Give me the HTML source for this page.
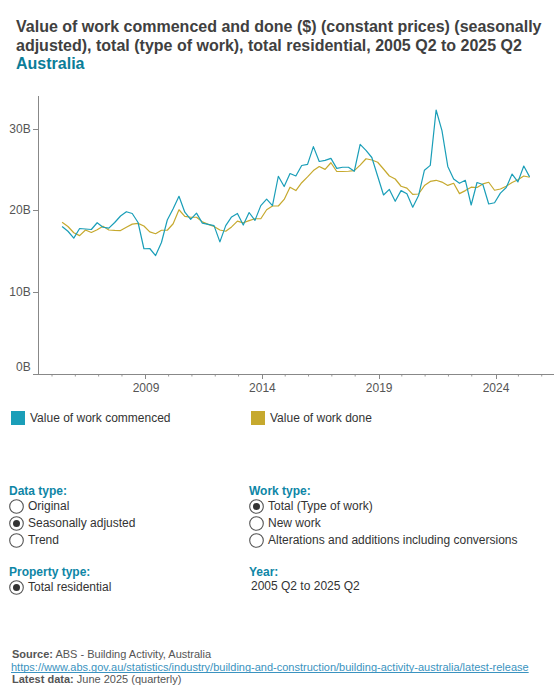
<!DOCTYPE html>
<html><head><meta charset="utf-8">
<style>
html,body{margin:0;padding:0;background:#fff;}
body{width:560px;height:700px;position:relative;overflow:hidden;font-family:"Liberation Sans",sans-serif;}
.t{position:absolute;white-space:nowrap;}
.title{font-weight:bold;font-size:16px;color:#404040;left:16px;line-height:18.5px;}
.lab{font-size:12px;color:#333;}
.hd{font-size:12px;font-weight:bold;color:#0e86a6;}
.src{font-size:11px;color:#555;left:12px;}
</style></head><body>
<div class="t title" style="top:18px">Value of work commenced and done ($) (constant prices) (seasonally<br>adjusted), total (type of work), total residential, 2005 Q2 to 2025 Q2<br><span style="color:#0b7d98">Australia</span></div>

<svg width="560" height="700" style="position:absolute;left:0;top:0">
<g stroke="#888" stroke-width="1" fill="none" shape-rendering="crispEdges">
<line x1="38.5" y1="96" x2="38.5" y2="374"/>
<line x1="33" y1="374.5" x2="554" y2="374.5"/>
<line x1="33" y1="129.5" x2="38" y2="129.5"/>
<line x1="33" y1="210.5" x2="38" y2="210.5"/>
<line x1="33" y1="292.5" x2="38" y2="292.5"/>
</g>
<g stroke="#888" stroke-width="1"><line x1="52.00" y1="375" x2="52.00" y2="376.5" stroke="#999"/><line x1="75.32" y1="375" x2="75.32" y2="376.5" stroke="#999"/><line x1="98.64" y1="375" x2="98.64" y2="376.5" stroke="#999"/><line x1="121.96" y1="375" x2="121.96" y2="376.5" stroke="#999"/><line x1="145.5" y1="375" x2="145.5" y2="379" shape-rendering="crispEdges"/><line x1="168.60" y1="375" x2="168.60" y2="376.5" stroke="#999"/><line x1="191.92" y1="375" x2="191.92" y2="376.5" stroke="#999"/><line x1="215.24" y1="375" x2="215.24" y2="376.5" stroke="#999"/><line x1="238.56" y1="375" x2="238.56" y2="376.5" stroke="#999"/><line x1="262.5" y1="375" x2="262.5" y2="379" shape-rendering="crispEdges"/><line x1="285.20" y1="375" x2="285.20" y2="376.5" stroke="#999"/><line x1="308.52" y1="375" x2="308.52" y2="376.5" stroke="#999"/><line x1="331.84" y1="375" x2="331.84" y2="376.5" stroke="#999"/><line x1="355.16" y1="375" x2="355.16" y2="376.5" stroke="#999"/><line x1="379.5" y1="375" x2="379.5" y2="379" shape-rendering="crispEdges"/><line x1="401.80" y1="375" x2="401.80" y2="376.5" stroke="#999"/><line x1="425.12" y1="375" x2="425.12" y2="376.5" stroke="#999"/><line x1="448.44" y1="375" x2="448.44" y2="376.5" stroke="#999"/><line x1="471.76" y1="375" x2="471.76" y2="376.5" stroke="#999"/><line x1="496.5" y1="375" x2="496.5" y2="379" shape-rendering="crispEdges"/><line x1="518.40" y1="375" x2="518.40" y2="376.5" stroke="#999"/><line x1="541.72" y1="375" x2="541.72" y2="376.5" stroke="#999"/></g>
<g font-family="Liberation Sans" font-size="12" fill="#555" text-anchor="end">
<text x="30.7" y="133">30B</text>
<text x="30.7" y="214">20B</text>
<text x="30.7" y="296">10B</text>
<text x="30.7" y="371">0B</text>
</g>
<g font-family="Liberation Sans" font-size="12" fill="#555" text-anchor="middle">
<text x="146" y="391.5">2009</text>
<text x="262.4" y="391.5">2014</text>
<text x="379.2" y="391.5">2019</text>
<text x="496" y="391.5">2024</text>
</g>
<polyline fill="none" stroke="#c6a92e" stroke-width="1.2" stroke-linejoin="round" points="62.10,222.25 67.94,226.50 73.79,232.75 79.63,235.60 85.48,230.00 91.32,232.50 97.16,229.75 103.01,226.25 108.85,230.00 114.70,230.40 120.54,230.60 126.38,227.20 132.23,224.10 138.07,223.40 143.92,226.00 149.76,231.90 155.60,233.75 161.45,230.25 167.29,230.25 173.14,223.75 178.98,209.75 184.82,216.40 190.67,217.25 196.51,217.25 202.36,221.90 208.20,224.40 214.04,226.50 219.89,230.00 225.73,231.25 231.58,226.90 237.42,221.10 243.26,222.80 249.11,220.60 254.95,218.75 260.80,218.75 266.64,209.75 272.48,206.00 278.33,206.00 284.17,199.40 290.02,187.25 295.86,190.60 301.70,182.70 307.55,176.90 313.39,170.60 319.24,166.50 325.08,169.40 330.92,162.75 336.77,171.50 342.61,171.50 348.46,171.25 354.30,170.60 360.14,165.10 365.99,158.75 371.83,160.00 377.68,162.25 383.52,169.00 389.36,176.00 395.21,179.00 401.05,186.25 406.90,188.10 412.74,194.40 418.58,194.00 424.43,185.60 430.27,181.40 436.12,180.30 441.96,182.10 447.80,185.40 453.65,183.30 459.49,193.60 465.34,190.60 471.18,187.20 477.02,187.50 482.87,183.90 488.71,182.25 494.56,190.25 500.40,189.00 506.24,186.25 512.09,182.50 517.93,179.75 523.78,176.00 529.62,177.25"/>
<polyline fill="none" stroke="#1a9eb8" stroke-width="1.2" stroke-linejoin="round" points="62.10,226.50 67.94,231.25 73.79,238.10 79.63,228.50 85.48,229.00 91.32,229.50 97.16,222.75 103.01,227.25 108.85,228.10 114.70,222.50 120.54,216.00 126.38,211.70 132.23,213.50 138.07,222.50 143.92,248.75 149.76,248.50 155.60,255.60 161.45,242.50 167.29,220.00 173.14,208.75 178.98,196.30 184.82,212.20 190.67,219.40 196.51,213.10 202.36,223.10 208.20,224.40 214.04,225.60 219.89,241.90 225.73,225.60 231.58,216.90 237.42,213.50 243.26,225.00 249.11,212.50 254.95,220.40 260.80,205.60 266.64,199.10 272.48,205.60 278.33,176.25 284.17,186.50 290.02,173.50 295.86,176.00 301.70,165.50 307.55,164.40 313.39,146.60 319.24,161.50 325.08,160.40 330.92,158.40 336.77,168.40 342.61,167.25 348.46,167.25 354.30,171.25 360.14,144.40 365.99,150.30 371.83,157.50 377.68,176.25 383.52,195.00 389.36,189.40 395.21,201.25 401.05,190.60 406.90,193.75 412.74,207.25 418.58,195.60 424.43,170.20 430.27,165.40 436.12,110.00 441.96,130.70 447.80,166.40 453.65,178.90 459.49,183.30 465.34,180.30 471.18,205.00 477.02,182.50 482.87,184.50 488.71,204.00 494.56,202.75 500.40,193.10 506.24,187.50 512.09,174.10 517.93,181.90 523.78,166.00 529.62,176.90"/>
<rect x="11" y="411" width="14" height="14" fill="#1a9eb8"/>
<rect x="251" y="411" width="14" height="14" fill="#c6a92e"/>
<g fill="none" stroke="#555" stroke-width="1.1">
<circle cx="16.5" cy="506.5" r="6.8"/>
<circle cx="16.5" cy="523.5" r="6.8"/>
<circle cx="16.5" cy="540.5" r="6.8"/>
<circle cx="256.5" cy="506.5" r="6.8"/>
<circle cx="256.5" cy="523.5" r="6.8"/>
<circle cx="256.5" cy="540.5" r="6.8"/>
<circle cx="16.5" cy="587.5" r="6.8"/>
</g>
<g fill="#333">
<circle cx="16.5" cy="523.5" r="3.5"/>
<circle cx="256.5" cy="506.5" r="3.5"/>
<circle cx="16.5" cy="587.5" r="3.5"/>
</g>
</svg>

<div class="t lab" style="left:30px;top:411px">Value of work commenced</div>
<div class="t lab" style="left:270px;top:411px">Value of work done</div>

<div class="t hd" style="left:9px;top:484px">Data type:</div>
<div class="t lab" style="left:28px;top:499px">Original</div>
<div class="t lab" style="left:28px;top:516px">Seasonally adjusted</div>
<div class="t lab" style="left:28px;top:533px">Trend</div>

<div class="t hd" style="left:249px;top:484px">Work type:</div>
<div class="t lab" style="left:268px;top:499px">Total (Type of work)</div>
<div class="t lab" style="left:268px;top:516px">New work</div>
<div class="t lab" style="left:268px;top:533px">Alterations and additions including conversions</div>

<div class="t hd" style="left:9px;top:565px">Property type:</div>
<div class="t lab" style="left:28px;top:580px">Total residential</div>

<div class="t hd" style="left:249px;top:565px">Year:</div>
<div class="t lab" style="left:251px;top:579px">2005 Q2 to 2025 Q2</div>

<div class="t src" style="top:648px"><b>Source:</b> ABS - Building Activity, Australia</div>
<div class="t src" style="top:661px;left:11px;color:#3a93c0;text-decoration:underline;text-decoration-skip-ink:none">https://www.abs.gov.au/statistics/industry/building-and-construction/building-activity-australia/latest-release</div>
<div class="t src" style="top:673px"><b>Latest data:</b> June 2025 (quarterly)</div>
</body></html>
